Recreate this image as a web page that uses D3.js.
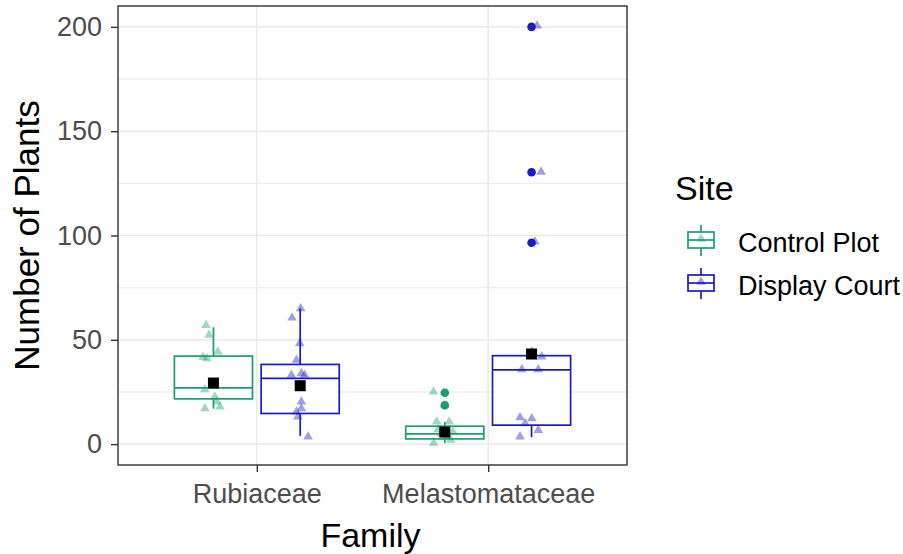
<!DOCTYPE html>
<html>
<head>
<meta charset="utf-8">
<script src="https://cdn.jsdelivr.net/npm/d3@7"></script>
<style>
  body { margin: 0; background: #fff; }
  text { font-family: "Liberation Sans", Arial, sans-serif; }
</style>
</head>
<body>
<svg id="plot" width="903" height="554"></svg>
<script>
const families = ["Rubiaceae", "Melastomataceae"];
const sites = ["Control Plot", "Display Court"];
const siteColors = ["#1b9e77", "#1a1ac8"];
const yTicks = [0, 50, 100, 150, 200];
const yMinor = [25, 75, 125, 175];

// box summaries: Rubiaceae/Control, Rubiaceae/Display, Melastomataceae/Control, Melastomataceae/Display
const groupFamily = ["Rubiaceae", "Rubiaceae", "Melastomataceae", "Melastomataceae"];
const groupSite = ["Control Plot", "Display Court", "Control Plot", "Display Court"];
const lowerWhisker = [17, 4, 0.5, 3.3];
const q1 = [21.7, 14.7, 2.5, 9.1];
const medians = [27, 31.5, 4.9, 35.6];
const q3 = [42.2, 38.2, 8.6, 42.4];
const upperWhisker = [56, 65, 10.7, 44.3];
const means = [29.3, 28, 5.8, 43.2];
const outliers = [[], [], [24.6, 18.6], [200, 130.3, 96.5]];

// raw counts (jittered triangles), jitter in family-axis units
const rubControl = [57, 52.3, 44.3, 41.6, 41, 28, 26.2, 22.7, 20.3, 17.9, 17.1];
const rubControlJit = [-0.032, -0.019, 0.019, -0.045, -0.028, 0.002, -0.037, 0.006, 0.015, 0.028, -0.037];
const rubDisplay = [65, 60.6, 48.3, 40.3, 33.1, 33.9, 33.1, 20.3, 17.1, 15.5, 13.1, 3.5];
const rubDisplayJit = [0.002, -0.035, -0.002, -0.016, -0.038, 0.005, 0.019, 0.005, 0.005, -0.016, -0.01, 0.034];
const melControl = [25.1, 18.6, 10.7, 10.7, 7, 6, 5, 3.5, 2, 0.5];
const melControlJit = [-0.049, 0, -0.035, 0.019, -0.03, 0.035, -0.017, 0.009, 0.026, -0.048];
const melDisplay = [200.5, 130.5, 97, 44.3, 41.9, 35.8, 35.8, 12.8, 12.3, 9.9, 6.7, 3.5];
const melDisplayJit = [0.024, 0.041, 0.015, 0.001, 0.044, -0.042, 0.029, -0.05, 0.001, -0.028, 0.029, -0.05];
const rawValues = [rubControl, rubDisplay, melControl, melDisplay];
const rawJitter = [rubControlJit, rubDisplayJit, melControlJit, melDisplayJit];

const panel = { left: 118, right: 627, top: 6, bottom: 465 };

const svg = d3.select("#plot");

const x = d3.scalePoint().domain(families).range([panel.left, panel.right]).padding(0.6);
const step = x.step();
const dodge = d3.scaleBand().domain(sites).range([-0.375 * step, 0.375 * step]);
const boxW = dodge.bandwidth() * 0.9;
const y = d3.scaleLinear().domain([-10, 210]).range([panel.bottom, panel.top]);
const color = d3.scaleOrdinal().domain(sites).range(siteColors);

const groupX = i => x(groupFamily[i]) + dodge(groupSite[i]) + dodge.bandwidth() / 2;

// panel background + grid
svg.append("rect").attr("x", panel.left).attr("y", panel.top)
  .attr("width", panel.right - panel.left).attr("height", panel.bottom - panel.top)
  .attr("fill", "#fff");
svg.selectAll(".minor").data(yMinor).enter().append("line")
  .attr("x1", panel.left).attr("x2", panel.right)
  .attr("y1", d => y(d)).attr("y2", d => y(d))
  .attr("stroke", "#efefef").attr("stroke-width", 1.4);
svg.selectAll(".major").data(yTicks).enter().append("line")
  .attr("x1", panel.left).attr("x2", panel.right)
  .attr("y1", d => y(d)).attr("y2", d => y(d))
  .attr("stroke", "#eaeaea").attr("stroke-width", 1.5);
svg.selectAll(".vgrid").data(families).enter().append("line")
  .attr("x1", d => x(d)).attr("x2", d => x(d))
  .attr("y1", panel.top).attr("y2", panel.bottom)
  .attr("stroke", "#eaeaea").attr("stroke-width", 1.5);

// boxplots
const boxes = svg.append("g");
d3.range(4).forEach(i => {
  const cx = groupX(i);
  const c = color(groupSite[i]);
  const g = boxes.append("g").attr("stroke", c).attr("stroke-width", 1.7).attr("fill", "none");
  g.append("line").attr("x1", cx).attr("x2", cx).attr("y1", y(q3[i])).attr("y2", y(upperWhisker[i]));
  g.append("line").attr("x1", cx).attr("x2", cx).attr("y1", y(q1[i])).attr("y2", y(lowerWhisker[i]));
  g.append("rect").attr("x", cx - boxW / 2).attr("width", boxW)
    .attr("y", y(q3[i])).attr("height", y(q1[i]) - y(q3[i])).attr("fill", "#fff");
  g.append("line").attr("x1", cx - boxW / 2).attr("x2", cx + boxW / 2)
    .attr("y1", y(medians[i])).attr("y2", y(medians[i]));
  g.selectAll("circle").data(outliers[i]).enter().append("circle")
    .attr("cx", cx).attr("cy", d => y(d)).attr("r", 4.3)
    .attr("fill", c).attr("stroke", "none");
});

// jittered points
const tri = d3.symbol().type(d3.symbolTriangle).size(40);
d3.range(4).forEach(i => {
  const cx = groupX(i);
  svg.append("g").selectAll("path").data(rawValues[i]).enter().append("path")
    .attr("d", tri)
    .attr("transform", (d, j) => `translate(${cx + rawJitter[i][j] * step},${y(d)})`)
    .attr("fill", color(groupSite[i])).attr("fill-opacity", 0.42);
});

// means
svg.append("g").selectAll("rect").data(means).enter().append("rect")
  .attr("x", (d, i) => groupX(i) - 5.5).attr("y", d => y(d) - 5.5)
  .attr("width", 11).attr("height", 11).attr("fill", "#000");

// panel border
svg.append("rect").attr("x", panel.left).attr("y", panel.top)
  .attr("width", panel.right - panel.left).attr("height", panel.bottom - panel.top)
  .attr("fill", "none").attr("stroke", "#333").attr("stroke-width", 1.4);

// axes
const yAxis = d3.axisLeft(y).tickValues(yTicks).tickSize(7).tickPadding(9);
const gy = svg.append("g").attr("transform", `translate(${panel.left},0)`).call(yAxis);
const xAxis = d3.axisBottom(x).tickSize(7).tickPadding(12);
const gx = svg.append("g").attr("transform", `translate(0,${panel.bottom})`).call(xAxis);
[gx, gy].forEach(g => {
  g.select(".domain").remove();
  g.selectAll(".tick line").attr("stroke", "#333").attr("stroke-width", 1.4);
  g.selectAll(".tick text").attr("fill", "#4d4d4d").style("font-size", "27px")
    .style("font-family", '"Liberation Sans", Arial, sans-serif');
});

svg.append("text").attr("x", (panel.left + panel.right) / 2 - 2).attr("y", 547)
  .attr("text-anchor", "middle").style("font-size", "34px").text("Family");
svg.append("text").attr("transform", `translate(39,${(panel.top + panel.bottom) / 2}) rotate(-90)`)
  .attr("text-anchor", "middle").style("font-size", "35px").text("Number of Plants");

// legend
const legend = svg.append("g");
legend.append("text").attr("x", 675).attr("y", 200).style("font-size", "34px").text("Site");
sites.forEach((s, i) => {
  const cy = 240 + i * 43;
  const kx = 701;
  const c = color(s);
  const k = legend.append("g").attr("stroke", c).attr("stroke-width", 1.7).attr("fill", "none");
  k.append("line").attr("x1", kx).attr("x2", kx).attr("y1", cy - 15).attr("y2", cy + 16);
  k.append("rect").attr("x", kx - 13).attr("y", cy - 8).attr("width", 26).attr("height", 16).attr("fill", "#fff");
  k.append("line").attr("x1", kx - 13).attr("x2", kx + 13).attr("y1", cy).attr("y2", cy);
  legend.append("path").attr("d", tri).attr("transform", `translate(${kx},${cy - 1})`)
    .attr("fill", c).attr("fill-opacity", 0.42);
  legend.append("text").attr("x", 738).attr("y", cy + 12).style("font-size", "27px").text(s);
});
</script>
</body>
</html>
